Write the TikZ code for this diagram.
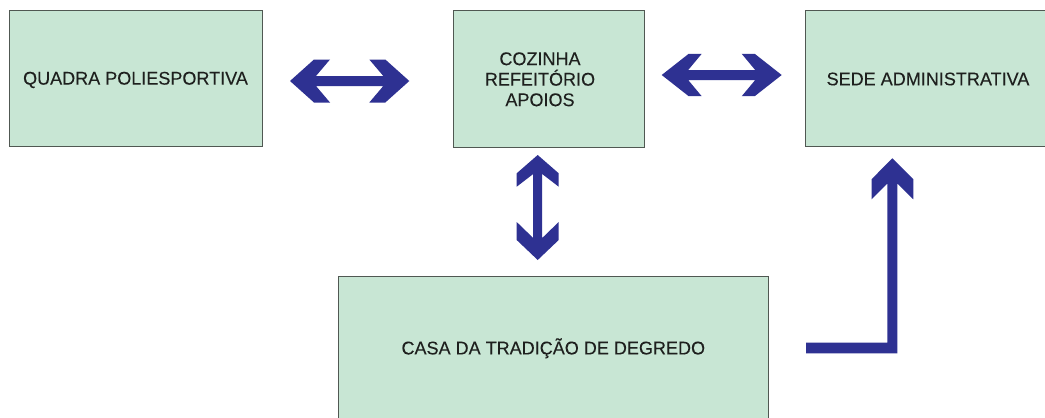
\documentclass[tikz,border=0pt]{standalone}
\usepackage{fontspec}
\setmainfont{Liberation Sans}[FakeStretch=0.98, FakeBold=0.12]
\usetikzlibrary{calc}
\definecolor{boxfill}{RGB}{200,230,212}
\definecolor{boxline}{RGB}{80,88,82}
\definecolor{arrowc}{RGB}{46,49,146}
\definecolor{txtc}{RGB}{30,32,30}
\begin{document}
\begin{tikzpicture}[x=1pt,y=-1pt,
  box/.style={draw=boxline, line width=1pt, fill=boxfill, inner sep=0pt},
  lbl/.style={text=txtc, font=\fontsize{18.4}{20.5}\selectfont, inner sep=0pt},
  oneline/.style={text height=13.2pt, text depth=0pt},
  blk/.style={fill=arrowc, draw=none}]
\path[use as bounding box] (0,0) rectangle (1045,418);
\clip (0,0) rectangle (1045,418);
\fill[white] (0,0) rectangle (1045,418);

% boxes
\node[box, lbl, oneline, minimum width=253pt, minimum height=136pt] (quadra) at (135.5,78) {QUADRA POLIESPORTIVA};
\node[box, minimum width=191pt, minimum height=136.7pt,
      label={[lbl, align=center, xshift=-8.5pt, name=cozt]center:COZINHA\\REFEITÓRIO\\APOIOS}] (cozinha) at (548.5,79.3) {};
\node[box, lbl, oneline, minimum width=246pt, minimum height=136pt] (sede) at (928,78.7) {SEDE ADMINISTRATIVA};
\node[box, lbl, oneline, minimum width=430pt, minimum height=142.3pt] (casa) at (553.3,347.8) {CASA DA TRADIÇÃO DE DEGREDO};

% arrow end points
\coordinate (h1a) at (290,81);
\coordinate (h1b) at (409.3,81);
\coordinate (h2a) at (661.7,75);
\coordinate (h2b) at (781.7,75);
\coordinate (vt) at (537.7,155);
\coordinate (vb) at (537.7,260);
\coordinate (ls) at (806,348);
\coordinate (lc) at (892.3,348);
\coordinate (lt) at (892.3,158.3);

% quadra <-> cozinha
\fill[blk] (h1a) -- ++(24,-21.5) -- ++(16,0) -- ++(-14,16.5)
  -- ($(h1b)+(-26,-5)$) -- ++(-14,-16.5) -- ++(16,0) -- (h1b)
  -- ++(-24,21.5) -- ++(-16,0) -- ++(14,-16.5)
  -- ($(h1a)+(26,5)$) -- ++(14,16.5) -- ++(-16,0) -- cycle;

% cozinha <-> sede
\fill[blk] (h2a) -- ++(27,-21.2) -- ++(13,0) -- ++(-13.5,16.2)
  -- ($(h2b)+(-26.5,-5)$) -- ++(-13.5,-16.2) -- ++(13,0) -- (h2b)
  -- ++(-27,21.2) -- ++(-13,0) -- ++(13.5,-16.2)
  -- ($(h2a)+(26.5,5)$) -- ++(13.5,16.2) -- ++(-13,0) -- cycle;

% cozinha <-> casa
\fill[blk] (vt) -- ++(-21,18.3) -- ++(0,13.4) -- ++(16.5,-12.7)
  -- ($(vb)+(-4.5,-22)$) -- ++(-16.5,-16) -- ++(0,18) -- (vb)
  -- ++(21,-20) -- ++(0,-18) -- ++(-16.5,16)
  -- ($(vt)+(4.5,19)$) -- ++(16.5,12.7) -- ++(0,-13.4) -- cycle;

% casa -> sede
\fill[blk] ($(ls)+(0,-5.3)$) -- ($(lc)+(-5,-5.3)$) -- ($(lt)+(-5,25.2)$)
  -- ++(-15.8,15.8) -- ++(0,-20) -- (lt) -- ++(21,21) -- ++(0,20)
  -- ++(-16,-15.8) -- ($(lc)+(5,5.3)$) -- ($(ls)+(0,5.3)$) -- cycle;
\end{tikzpicture}
\end{document}
